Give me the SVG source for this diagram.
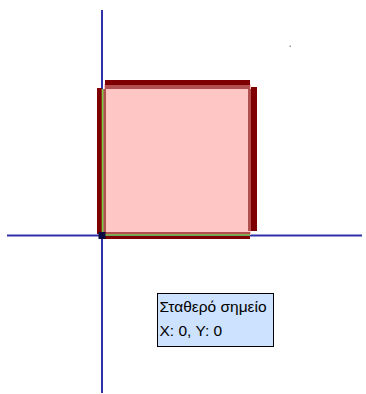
<svg xmlns="http://www.w3.org/2000/svg" width="366" height="394" viewBox="0 0 366 394">
<style>
.axis{stroke:#3030a8;stroke-width:2;fill:none}
.bar{fill:#7f0000}
.barsoft{fill:#7f0000;fill-opacity:0.6}
.edge{stroke:#7ccc4a;stroke-width:1.6;fill:none}
.tip{font-family:"Liberation Sans","DejaVu Sans",Arial,sans-serif;font-size:15.5px;fill:#000}
</style>
<rect width="366" height="394" fill="#ffffff"/>
<g id="axes">
<line class="axis" x1="102" y1="10" x2="102" y2="393"/>
<line class="axis" x1="7" y1="235.5" x2="362" y2="235.5"/>
</g>
<g id="square">
<rect x="104" y="84" width="147" height="151" fill="#ffc6c6"/>
<rect class="bar" x="105" y="80" width="145" height="5"/>
<rect class="barsoft" x="105" y="85" width="145" height="4"/>
<rect class="bar" x="97" y="88" width="5" height="146"/>
<rect class="barsoft" x="103" y="89" width="3" height="144"/>
<rect class="bar" x="251" y="87" width="6" height="144"/>
<rect class="barsoft" x="248" y="89" width="3" height="142"/>
<rect class="barsoft" x="105" y="232" width="145" height="3"/>
<rect class="bar" x="105" y="236" width="145" height="3"/>
<line class="edge" x1="102.5" y1="89" x2="102.5" y2="234"/>
<line class="edge" x1="104" y1="235" x2="250" y2="235"/>
</g>
<g id="fixed-point">
<rect x="98.5" y="232" width="7" height="7" fill="#0a0a40"/>
</g>
<g id="dot">
<rect x="289.5" y="45.5" width="1.5" height="1.5" fill="#999999"/>
</g>
<g id="tooltip">
<rect x="157.5" y="293.5" width="116" height="53" fill="#cce2fe" stroke="#000000" stroke-width="1"/>
<text class="tip" x="159.5" y="312">Σταθερό σημείο</text>
<text class="tip" x="159.5" y="336">X: 0, Y: 0</text>
</g>
</svg>
